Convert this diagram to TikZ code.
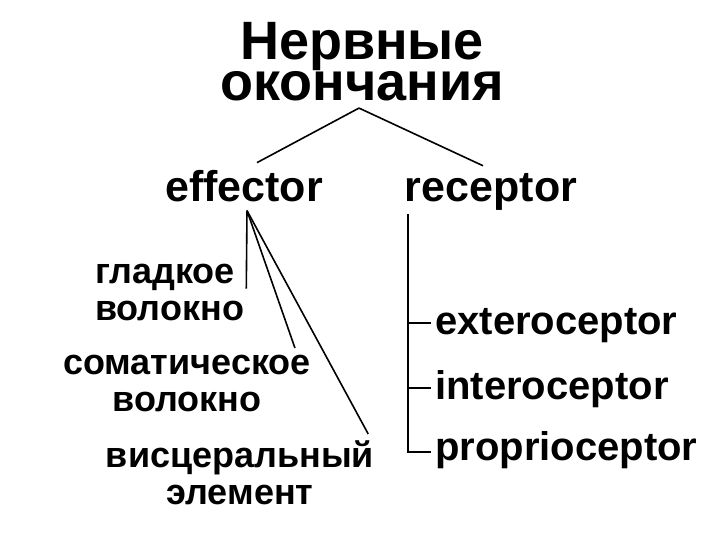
\documentclass[tikz,border=0pt]{standalone}
\usepackage{fontspec}
\setmainfont{Liberation Sans}

\tikzset{
	titletext/.style={font=\bfseries\fontsize{54}{41}\selectfont, align=center, inner sep=0pt},
	headtext/.style={font=\bfseries\fontsize{43}{43}\selectfont, inner sep=0pt},
	kindtext/.style={font=\bfseries\fontsize{36}{37}\selectfont, inner sep=0pt},
	ceptext/.style={font=\bfseries\fontsize{40}{40}\selectfont, inner sep=4pt},
	branch/.style={line width=1.6pt},
	bracket/.style={line width=2.4pt}
}

\begin{document}
\begin{tikzpicture}[x=1pt, y=-1pt]
	\useasboundingbox[fill=white] (0,0) rectangle (720,540);

	% Title
	\node[titletext, anchor=north] (title) at (362,22) {Нервные\\окончания};

	% Two branches
	\node[headtext, anchor=base] (effector) at (244,202) {effector};
	\node[headtext, anchor=base] (receptor) at (491,202) {receptor};

	\draw[branch] ([xshift=-3pt,yshift=-7pt]title.south) -- ([xshift=13pt,yshift=8pt]effector.north);
	\draw[branch] ([xshift=-3pt,yshift=-7pt]title.south) -- ([xshift=-8pt,yshift=8pt]receptor.north);

	% Effector kinds
	\node[kindtext, align=left, anchor=north west] (smooth) at (95,264) {гладкое\\волокно};
	\node[kindtext, align=center, anchor=north] (somatic) at (187,355) {соматическое\\волокно};
	\node[kindtext, align=center, anchor=north] (visceral) at (240,441) {висцеральный\\элемент};

	\draw[branch] ([xshift=3pt,yshift=-8pt]effector.south) -- ([xshift=2pt,yshift=4pt]smooth.east);
	\draw[branch] ([xshift=3pt,yshift=-8pt]effector.south) -- ([xshift=-16pt,yshift=7pt]somatic.north east);
	\draw[branch] ([xshift=3pt,yshift=-8pt]effector.south) -- ([xshift=-6pt,yshift=7pt]visceral.north east);

	% Receptor kinds
	\node[ceptext, anchor=base west] (extero) at (431,334) {exteroceptor};
	\node[ceptext, anchor=base west] (intero) at (431,399) {interoceptor};
	\node[ceptext, anchor=base west] (proprio) at (431,460) {proprioceptor};

	\coordinate (bartop) at ([xshift=-83pt,yshift=-3pt]receptor.south);
	\coordinate (exterotick) at ([yshift=11pt]extero.base west);
	\coordinate (interotick) at ([yshift=11pt]intero.base west);
	\coordinate (propriotick) at ([yshift=8pt]proprio.base west);

	\draw[bracket] (bartop) |- (propriotick);
	\draw[bracket] (bartop |- exterotick) -- (exterotick);
	\draw[bracket] (bartop |- interotick) -- (interotick);
\end{tikzpicture}
\end{document}
